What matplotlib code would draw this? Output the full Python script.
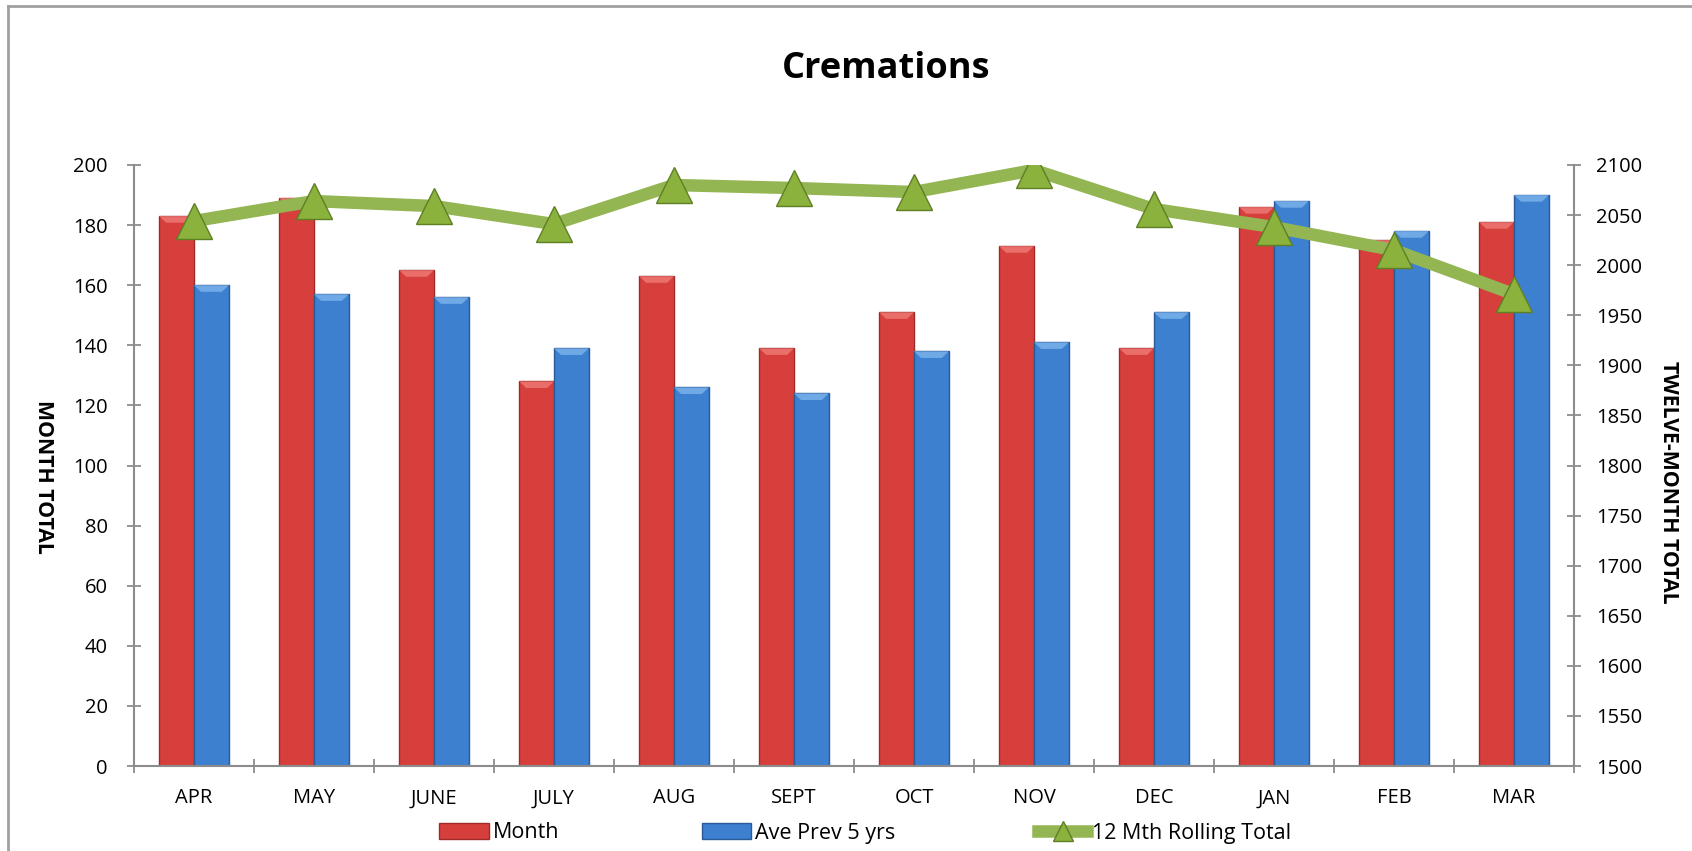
import numpy as np
import matplotlib
matplotlib.use("Agg")
import matplotlib.pyplot as plt
from matplotlib.lines import Line2D

# ---------- data ----------
months = ["APR", "MAY", "JUNE", "JULY", "AUG", "SEPT", "OCT", "NOV", "DEC", "JAN", "FEB", "MAR"]
month_total = [183, 189, 165, 128, 163, 139, 151, 173, 139, 186, 175, 181]
ave_prev_5 = [160, 157, 156, 139, 126, 124, 138, 141, 151, 188, 178, 190]
rolling_12 = [2044, 2064, 2059, 2041, 2080, 2077, 2073, 2095, 2056, 2038, 2015, 1971]

left_ticks = list(range(0, 201, 20))
right_ticks = list(range(1500, 2101, 50))

# ---------- style ----------
RED = "#D63F3B"
RED_EDGE = "#9E2B28"
BLUE = "#3C80CF"
BLUE_EDGE = "#2A5B96"
GREEN = "#93B552"
GREEN_MK = "#8AB23C"
GREEN_EDGE = "#5F7F25"
AXIS_GRAY = "#8C8C8C"

plt.rcParams["font.family"] = ["Open Sans", "DejaVu Sans"]

W, H = 1692, 851
fig = plt.figure(figsize=(W / 100, H / 100), dpi=100)

ax = fig.add_axes([134 / W, 1 - 766 / H, (1574 - 134) / W, (766 - 165) / H])
ax2 = ax.twinx()

x = np.arange(len(months))
bw = 0.29
b1 = ax.bar(x - bw / 2, month_total, width=bw, color=RED, edgecolor=RED_EDGE,
            linewidth=1.0, label="Month", zorder=2)
b2 = ax.bar(x + bw / 2, ave_prev_5, width=bw, color=BLUE, edgecolor=BLUE_EDGE,
            linewidth=1.0, label="Ave Prev 5 yrs", zorder=2)

# light bevel on top of each bar
for bars, col in ((b1, "#F07A76"), (b2, "#7DB5EE")):
    for r in bars:
        bx, by, bwid, bh = r.get_x(), r.get_y(), r.get_width(), r.get_height()
        ax.fill([bx, bx + bwid, bx + bwid * 0.8, bx + bwid * 0.2],
                [by + bh, by + bh, by + bh - 2.2, by + bh - 2.2],
                color=col, alpha=0.8, zorder=3, linewidth=0)

ax2.plot(x, rolling_12, color=GREEN, linewidth=9, solid_capstyle="round",
         solid_joinstyle="round", zorder=3)
ax2.plot(x, rolling_12, linestyle="none", marker="^", markersize=26,
         markerfacecolor=GREEN_MK, markeredgecolor=GREEN_EDGE, markeredgewidth=1.0, zorder=4)

ax.set_xlim(-0.5, len(months) - 0.5)
ax.set_ylim(0, 200)
ax2.set_ylim(1500, 2100)
ax.set_yticks(left_ticks)
ax2.set_yticks(right_ticks)

ax.set_xticks(x)
ax.set_xticklabels(months)
ax.set_xticks(np.arange(-0.5, len(months), 1), minor=True)
ax.tick_params(axis="x", which="major", length=0, pad=16, labelsize=14.5)
ax.tick_params(axis="x", which="minor", direction="inout", length=10, color=AXIS_GRAY, width=1.3)
ax.tick_params(axis="y", direction="inout", length=10, color=AXIS_GRAY, width=1.3,
               pad=14, labelsize=14.5)
ax2.tick_params(axis="y", direction="inout", length=10, color=AXIS_GRAY, width=1.3,
                pad=11, labelsize=14.5)

for a in (ax, ax2):
    a.spines["top"].set_visible(False)
    for s in ("left", "right", "bottom"):
        a.spines[s].set_color(AXIS_GRAY)
        a.spines[s].set_linewidth(1.5)
ax.spines["right"].set_visible(False)
ax2.spines["left"].set_visible(False)
ax2.spines["bottom"].set_visible(False)
ax.set_zorder(1)
ax2.set_zorder(2)
ax.patch.set_visible(False)

# titles
fig.text(886 / W, 1 - 69 / H, "Cremations", ha="center", va="center",
         fontsize=26, fontweight="bold")
fig.text(43 / W, 1 - 477 / H, "MONTH TOTAL", ha="center", va="center",
         rotation=-90, fontsize=15.3, fontweight="bold")
fig.text(1668 / W, 1 - 482 / H, "TWELVE-MONTH TOTAL", ha="center", va="center",
         rotation=-90, fontsize=15.3, fontweight="bold")

# legend
line_handle = Line2D([], [], color=GREEN, linewidth=9, marker="^", markersize=15,
                     markerfacecolor=GREEN_MK, markeredgecolor=GREEN_EDGE)
fig.legend([b1.patches[0], b2.patches[0], line_handle],
           ["Month", "Ave Prev 5 yrs", "12 Mth Rolling Total"],
           loc="center", bbox_to_anchor=(865 / W, 1 - 833 / H), ncol=3,
           frameon=False, fontsize=15.5, handlelength=2.3, handleheight=0.7,
           handletextpad=0.2, columnspacing=6.6, borderpad=0)

# outer chart border
fig.add_artist(Line2D([8 / W, 1], [1 - 6 / H, 1 - 6 / H], color="#A0A0A0", linewidth=2,
                      transform=fig.transFigure))
fig.add_artist(Line2D([8 / W, 8 / W], [0, 1 - 6 / H], color="#A0A0A0", linewidth=2,
                      transform=fig.transFigure))

fig.savefig("out.png", dpi=100)
